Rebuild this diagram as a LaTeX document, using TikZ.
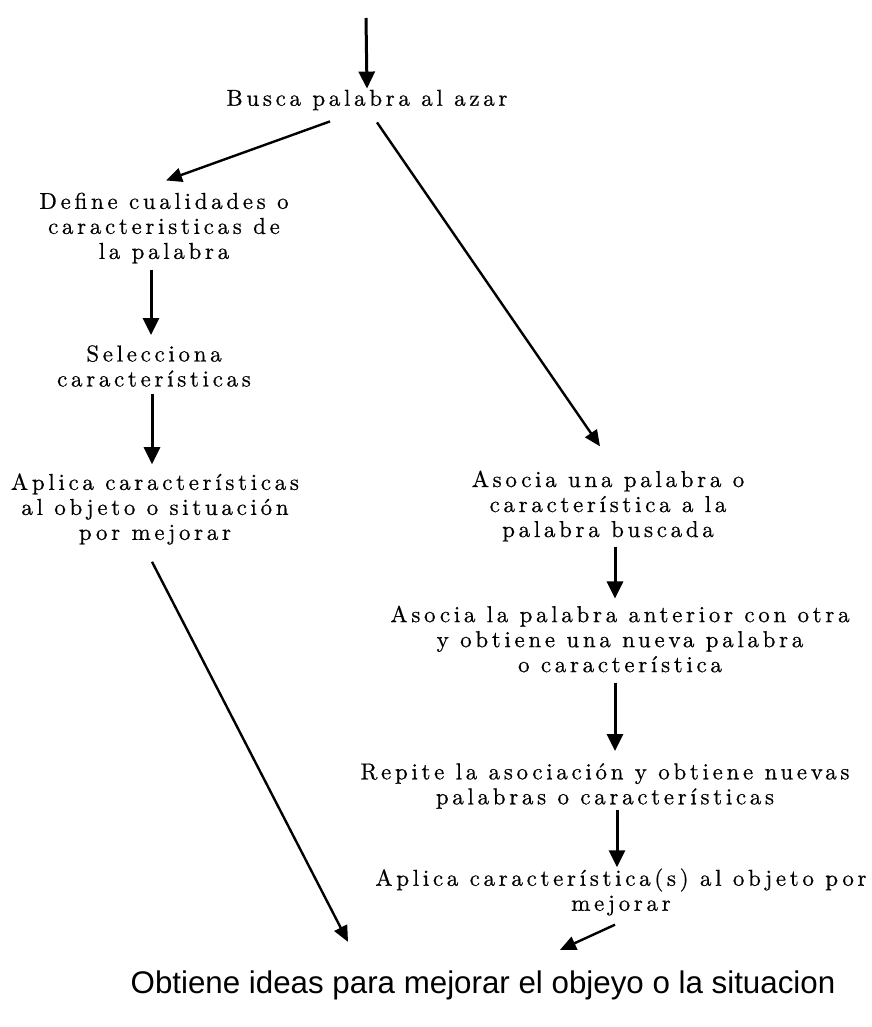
\documentclass[tikz,border=0pt]{standalone}
\usepackage{fontspec}
\usetikzlibrary{arrows.meta}
\newfontfamily\pasofont{lmroman10-regular.otf}[LetterSpace=16, FakeBold=0.6]
\newfontfamily\finfont{Liberation Sans}
\begin{document}
\begin{tikzpicture}[x=1pt,y=-1pt,
  paso/.style={align=center, inner sep=1pt, font=\pasofont\fontsize{23}{25}\selectfont},
  flecha/.style={-{Triangle[width=16pt,length=17pt]}, line width=3pt},
  diag/.style={-{Triangle[width=14pt,length=16pt]}, line width=2.4pt}]
  \useasboundingbox (0,0) rectangle (871,1027);
  \coordinate (inicio) at (366,18);
  \node[paso] (busca) at (367,100) {Busca palabra al azar};
  % rama izquierda
  \node[paso] (define) at (164,228) {Define cualidades o\\caracteristicas de\\la palabra};
  \node[paso] (selecciona) at (154,366) {Selecciona\\características};
  \node[paso] (aplicaizq) at (155,509) {Aplica características\\al objeto o situación\\por mejorar};
  % rama derecha
  \node[paso] (asocia) at (608,506) {Asocia una palabra o\\característica a la\\palabra buscada};
  \node[paso] (asociaotra) at (620,639) {Asocia la palabra anterior con otra\\y obtiene una nueva palabra\\o característica};
  \node[paso] (repite) at (605,786) {Repite la asociación y obtiene nuevas\\palabras o características};
  \node[paso] (aplicader) at (621,892) {Aplica característica(s) al objeto por\\mejorar};
  \node[font=\finfont\fontsize{31.3}{36}\selectfont] (obtiene) at (483,985) {Obtiene ideas para mejorar el objeyo o la situacion};

  \draw[flecha] (inicio) -- (busca.north);
  \draw[diag] (busca.south) ++(-37,10) -- ([xshift=2pt,yshift=11pt]define.north);
  \draw[diag] (busca.south) ++(10,11) -- ([xshift=-8pt,yshift=23pt]asocia.north);
  \draw[flecha, shorten <=5pt, shorten >=9pt] ([xshift=-13pt]define.south) -- ([xshift=-3pt]selecciona.north);
  \draw[flecha, shorten <=6pt, shorten >=8pt] ([xshift=-2pt]selecciona.south) -- ([xshift=-3pt]aplicaizq.north);
  \draw[diag] (aplicaizq.south) ++(-3,16) -- ([xshift=-135pt,yshift=25pt]obtiene.north);
  \draw[flecha, shorten <=4pt, shorten >=6pt] ([xshift=7pt]asocia.south) -- ([xshift=-5pt]asociaotra.north);
  \draw[flecha, shorten <=9pt, shorten >=11pt] ([xshift=-5pt]asociaotra.south) -- ([xshift=10pt]repite.north);
  \draw[flecha] ([xshift=12pt]repite.south) -- ([xshift=-4pt]aplicader.north);
  \draw[diag] (aplicader.south) ++(-6,8) -- ([xshift=77pt,yshift=17pt]obtiene.north);
\end{tikzpicture}
\end{document}
